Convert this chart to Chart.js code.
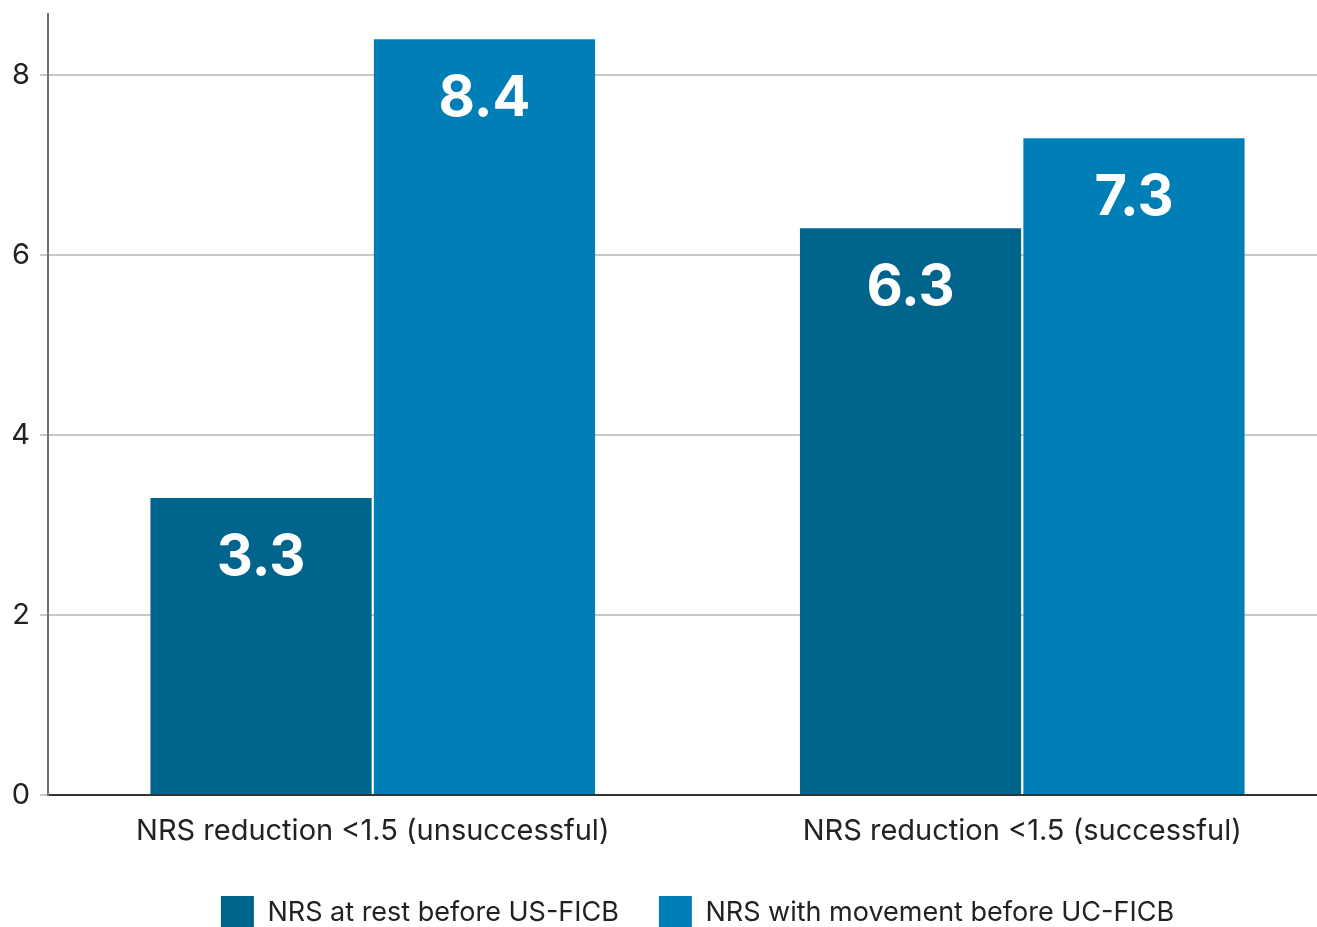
<!DOCTYPE html>
<html>
<head>
<meta charset="utf-8">
<script src="https://cdn.jsdelivr.net/npm/chart.js@4"></script>
<style>
  html, body { margin: 0; padding: 0; background: #fff; overflow: hidden; }
  #wrap { position: absolute; left: 0; top: 0; width: 1347px; height: 939px; }
</style>
</head>
<body>
<div id="wrap"><canvas id="nrsChart"></canvas></div>
<script>
const categories = ['NRS reduction <1.5 (unsuccessful)', 'NRS reduction <1.5 (successful)'];
const restValues = [3.3, 6.3];
const movementValues = [8.4, 7.3];
const seriesNames = ['NRS at rest before US-FICB', 'NRS with movement before UC-FICB'];
const yTicks = [0, 2, 4, 6, 8];

const darkBlue = '#00648c';
const lightBlue = '#007eb6';

// values written inside each bar, near its top
const barLabels = {
    id: 'barLabels',
    afterDatasetsDraw(chart) {
        const ctx = chart.ctx;
        ctx.save();
        ctx.fillStyle = '#ffffff';
        ctx.font = 'bold 56px Inter';
        ctx.textAlign = 'center';
        ctx.textBaseline = 'middle';
        chart.data.datasets.forEach((ds, i) => {
            chart.getDatasetMeta(i).data.forEach((bar, j) => {
                ctx.fillText(ds.data[j].toFixed(1), bar.x, bar.y + 60);
            });
        });
        ctx.restore();
    }
};

const ctx = document.getElementById('nrsChart').getContext('2d');
new Chart(ctx, {
    type: 'bar',
    data: {
        labels: categories,
        datasets: [{
            label: seriesNames[0],
            data: restValues,
            backgroundColor: darkBlue
        }, {
            label: seriesNames[1],
            data: movementValues,
            backgroundColor: lightBlue
        }]
    },
    options: {
        responsive: true,
        maintainAspectRatio: false,
        animation: false,
        categoryPercentage: 0.688,
        barPercentage: 0.99,
        layout: { padding: { top: 14 } },
        plugins: {
            legend: {
                position: 'bottom',
                fullSize: false,
                labels: {
                    boxWidth: 33,
                    boxHeight: 33,
                    padding: 40,
                    color: '#222',
                    font: { family: 'Inter', size: 27 }
                }
            },
            tooltip: { enabled: false }
        },
        scales: {
            x: {
                grid: { display: false },
                border: { color: '#333', width: 2 },
                ticks: {
                    color: '#222',
                    padding: 11,
                    font: { family: 'Inter', size: 29 }
                },
                afterFit: s => { s.height = 61; s.paddingLeft = 0; s.paddingRight = 0; }
            },
            y: {
                min: 0,
                max: 8.68,
                afterBuildTicks: s => { s.ticks = yTicks.map(v => ({ value: v })); },
                grid: { color: '#c8c8c8', lineWidth: 2, tickLength: 8 },
                border: { color: '#707070', width: 2 },
                ticks: {
                    color: '#222',
                    padding: 10,
                    font: { family: 'Inter', size: 29 }
                },
                afterFit: s => { s.width = 48; s.paddingTop = 0; s.paddingBottom = 0; }
            }
        }
    },
    plugins: [barLabels]
});
</script>
</body>
</html>
